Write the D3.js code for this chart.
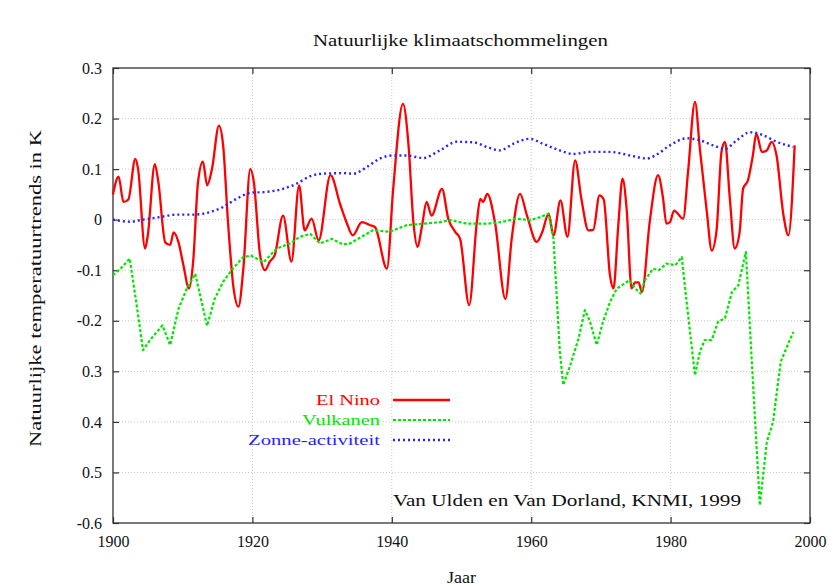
<!DOCTYPE html>
<html><head><meta charset="utf-8">
<script src="https://cdnjs.cloudflare.com/ajax/libs/d3/7.8.5/d3.min.js"></script>
<style>
html,body{margin:0;padding:0;background:#fff;}
svg text{font-family:"Liberation Serif","Times New Roman",serif;}
</style></head>
<body>
<svg id="chart" width="834" height="588"></svg>
<script>
// ---------- data ----------
const title = "Natuurlijke klimaatschommelingen";
const xLabel = "Jaar";
const yLabel = "Natuurlijke temperatuurtrends in K";
const credit = "Van Ulden en Van Dorland, KNMI, 1999";
const seriesNames = ["El Nino", "Vulkanen", "Zonne-activiteit"];

const xTickValues = [1900, 1920, 1940, 1960, 1980, 2000];
const xTickLabels = ["1900", "1920", "1940", "1960", "1980", "2000"];
const yTickValues = [0.3, 0.2, 0.1, 0, -0.1, -0.2, -0.3, -0.4, -0.5, -0.6];
const yTickLabels = ["0.3", "0.2", "0.1", "0", "-0.1", "-0.2", "0.3", "0.4", "0.5", "-0.6"];

const elNinoYears = [1900.0,1900.8,1901.5,1902.2,1903.2,1903.6,1904.6,1905.0,1906.0,1906.5,1907.5,1908.2,1908.7,1909.4,1910.1,1910.9,1911.5,1912.2,1912.9,1913.5,1914.2,1915.2,1915.8,1916.5,1917.3,1918.0,1918.7,1919.7,1920.2,1921.1,1921.8,1922.5,1923.2,1924.4,1925.6,1926.7,1927.5,1928.5,1929.5,1931.2,1932.6,1933.5,1934.4,1935.7,1936.9,1937.6,1939.3,1940.2,1941.6,1942.4,1943.1,1943.7,1944.3,1945.0,1945.7,1947.2,1948.1,1949.1,1949.8,1951.1,1952.2,1952.7,1953.1,1953.7,1954.8,1956.3,1957.2,1958.4,1959.4,1960.8,1961.6,1962.5,1963.2,1964.2,1965.2,1966.3,1967.2,1968.2,1968.9,1969.8,1970.4,1971.3,1971.8,1972.5,1973.1,1973.7,1974.4,1974.9,1975.4,1975.9,1977.0,1978.2,1978.9,1979.4,1979.9,1980.5,1981.8,1982.5,1983.5,1984.2,1985.2,1985.9,1986.6,1987.3,1987.8,1988.5,1989.2,1989.9,1990.4,1991.1,1991.8,1992.3,1993.1,1993.8,1994.5,1995.2,1996.2,1996.9,1997.8];
const elNinoValues = [0.05,0.085,0.035,0.04,0.12,0.10,-0.057,-0.03,0.11,0.075,-0.045,-0.05,-0.025,-0.045,-0.09,-0.136,-0.083,0.075,0.115,0.068,0.10,0.186,0.147,-0.005,-0.136,-0.172,-0.097,0.10,0.075,-0.07,-0.10,-0.083,-0.07,0.008,-0.083,0.068,-0.021,0.002,-0.041,0.088,0.03,-0.005,-0.031,-0.005,-0.011,-0.015,-0.097,0.061,0.229,0.147,-0.005,-0.054,-0.015,0.035,0.008,0.061,0.002,-0.024,-0.038,-0.169,-0.005,0.041,0.035,0.051,-0.005,-0.157,-0.038,0.051,0.008,-0.044,-0.024,0.012,-0.031,0.038,-0.034,0.117,0.041,-0.021,-0.02,0.048,0.04,-0.11,-0.136,-0.01,0.081,0.02,-0.136,-0.124,-0.124,-0.143,-0.005,0.088,0.044,-0.008,-0.005,0.018,0.002,0.094,0.233,0.14,0.015,-0.061,-0.02,0.134,0.154,0.041,-0.057,-0.025,0.061,0.078,0.127,0.17,0.134,0.137,0.154,0.127,0.008,-0.031,0.147];

const vulkanenYears = [1900.0,1901.2,1902.4,1903.4,1904.3,1905.5,1907.1,1908.2,1909.4,1910.6,1911.8,1912.5,1913.5,1914.6,1915.8,1917.0,1918.7,1919.8,1921.6,1923.5,1925.4,1926.8,1928.3,1929.7,1931.4,1933.0,1934.0,1937.3,1939.7,1942.1,1944.5,1946.9,1948.4,1950.8,1953.7,1955.6,1957.9,1959.8,1961.3,1962.5,1963.2,1964.1,1964.6,1965.6,1966.8,1967.7,1968.4,1969.4,1970.3,1971.3,1972.3,1973.2,1974.1,1974.9,1975.7,1976.3,1977.5,1978.3,1979.4,1980.7,1981.6,1982.3,1983.5,1984.2,1984.9,1985.9,1986.8,1987.8,1988.8,1989.7,1990.8,1991.6,1992.8,1993.8,1994.7,1995.8,1996.4,1997.6];
const vulkanenValues = [-0.11,-0.095,-0.077,-0.169,-0.258,-0.235,-0.209,-0.248,-0.176,-0.136,-0.107,-0.15,-0.21,-0.156,-0.123,-0.10,-0.074,-0.071,-0.084,-0.057,-0.047,-0.034,-0.028,-0.047,-0.038,-0.049,-0.047,-0.021,-0.024,-0.011,-0.008,-0.005,-0.001,-0.008,-0.008,-0.005,0.002,-0.001,0.005,0.012,-0.038,-0.26,-0.327,-0.288,-0.235,-0.179,-0.20,-0.248,-0.202,-0.163,-0.136,-0.128,-0.12,-0.136,-0.146,-0.12,-0.097,-0.10,-0.087,-0.09,-0.074,-0.163,-0.308,-0.261,-0.238,-0.238,-0.202,-0.195,-0.143,-0.13,-0.064,-0.268,-0.565,-0.44,-0.40,-0.281,-0.261,-0.222];

const zonYears = [1900.0,1902.4,1904.3,1906.7,1909.1,1911.5,1913.9,1915.8,1917.7,1919.7,1922.1,1924.4,1926.3,1928.3,1930.2,1933.0,1934.5,1936.4,1938.3,1940.2,1942.1,1944.5,1946.9,1949.3,1951.7,1953.6,1955.5,1957.4,1959.8,1961.7,1964.1,1966.0,1968.4,1971.3,1974.2,1976.6,1977.8,1979.9,1982.3,1984.2,1986.1,1987.8,1989.5,1991.4,1993.3,1995.2,1997.6];
const zonValues = [0.0,-0.004,0.0,0.005,0.01,0.01,0.015,0.025,0.041,0.053,0.055,0.061,0.071,0.086,0.091,0.092,0.091,0.104,0.121,0.127,0.127,0.122,0.137,0.154,0.153,0.144,0.137,0.15,0.16,0.15,0.137,0.13,0.134,0.134,0.127,0.121,0.127,0.147,0.161,0.157,0.147,0.14,0.157,0.173,0.167,0.154,0.144];

const seriesColors = ["#ff0000", "#00e600", "#2424ff"];

// ---------- drawing ----------
const svg = d3.select("#chart");
const x = d3.scaleLinear().domain([1900, 2000]).range([113, 810]);
const y = d3.scaleLinear().domain([-0.6, 0.3]).range([523, 68]);
const fontStack = '"Liberation Serif","Times New Roman",serif';

function fit(sel, w) { sel.attr("textLength", w).attr("lengthAdjust", "spacingAndGlyphs"); return sel; }

// grid
const grid = svg.append("g");
grid.selectAll("line.h").data(yTickValues.filter(v => v < 0.3 && v > -0.6)).enter().append("line")
  .attr("x1", x(1900)).attr("x2", x(2000)).attr("y1", d => y(d)).attr("y2", d => y(d))
  .attr("stroke", "#c8c8c8").attr("stroke-width", 1).attr("stroke-dasharray", "1,2");
grid.selectAll("line.v").data(xTickValues.filter(v => v > 1900 && v < 2000)).enter().append("line")
  .attr("y1", y(0.3)).attr("y2", y(-0.6)).attr("x1", d => x(d)).attr("x2", d => x(d))
  .attr("stroke", "#c8c8c8").attr("stroke-width", 1).attr("stroke-dasharray", "1,2");

// axes with inward ticks
const axL = d3.axisLeft(y).tickValues(yTickValues).tickFormat((d, i) => yTickLabels[i]).tickSizeInner(-6).tickSizeOuter(0).tickPadding(11);
const axR = d3.axisRight(y).tickValues(yTickValues).tickFormat("").tickSizeInner(-6).tickSizeOuter(0);
const axB = d3.axisBottom(x).tickValues(xTickValues).tickFormat((d, i) => xTickLabels[i]).tickSizeInner(-6).tickSizeOuter(0).tickPadding(13);
const axT = d3.axisTop(x).tickValues(xTickValues).tickFormat("").tickSizeInner(-6).tickSizeOuter(0);

function styleAxis(g) {
  g.select(".domain").remove();
  g.selectAll(".tick line").attr("stroke", "#333").attr("stroke-width", 1.2);
  g.selectAll(".tick text").attr("fill", "#111").style("font-family", fontStack).style("font-size", "16px");
}
svg.append("g").attr("transform", `translate(${x(1900)},0)`).call(axL).call(styleAxis);
svg.append("g").attr("transform", `translate(${x(2000)},0)`).call(axR).call(styleAxis);
svg.append("g").attr("transform", `translate(0,${y(-0.6)})`).call(axB).call(styleAxis);
svg.append("g").attr("transform", `translate(0,${y(0.3)})`).call(axT).call(styleAxis);

// frame
svg.append("rect").attr("x", x(1900)).attr("y", y(0.3)).attr("width", x(2000) - x(1900)).attr("height", y(-0.6) - y(0.3))
  .attr("fill", "none").attr("stroke", "#333").attr("stroke-width", 1.3);

// series
const series = [
  { years: elNinoYears, values: elNinoValues, dash: null, width: 2.3, curve: d3.curveMonotoneX },
  { years: vulkanenYears, values: vulkanenValues, dash: "3,2", width: 2.2, curve: d3.curveLinear },
  { years: zonYears, values: zonValues, dash: "2,3", width: 2.4, curve: d3.curveMonotoneX }
];
series.forEach((s, i) => {
  const line = d3.line().curve(s.curve).x(d => x(d[0])).y(d => y(d[1]));
  const pts = s.years.map((yr, j) => [yr, s.values[j]]);
  const p = svg.append("path").datum(pts).attr("d", line)
    .attr("fill", "none").attr("stroke", seriesColors[i]).attr("stroke-width", s.width)
    .attr("stroke-linejoin", "round");
  if (s.dash) p.attr("stroke-dasharray", s.dash);
});

// legend
const legY = [400, 420, 440];
seriesNames.forEach((n, i) => {
  fit(svg.append("text").attr("x", 380).attr("y", legY[i] + 5).attr("text-anchor", "end")
    .attr("fill", seriesColors[i]).style("font-size", "15px").text(n), [64, 78, 132][i]);
  const l = svg.append("line").attr("x1", 393).attr("x2", 450).attr("y1", legY[i]).attr("y2", legY[i])
    .attr("stroke", seriesColors[i]).attr("stroke-width", series[i].width);
  if (series[i].dash) l.attr("stroke-dasharray", series[i].dash);
});

// texts
fit(svg.append("text").attr("x", 313).attr("y", 46).attr("fill", "#111").style("font-size", "17px").text(title), 295);
fit(svg.append("text").attr("x", 393).attr("y", 506).attr("fill", "#111").style("font-size", "16px").text(credit), 348);
fit(svg.append("text").attr("x", 447).attr("y", 583).attr("fill", "#111").style("font-size", "17px").text(xLabel), 29);
fit(svg.append("text").attr("transform", "translate(41,447) rotate(-90)").attr("x", 0).attr("y", 0)
  .attr("fill", "#111").style("font-size", "17px").text(yLabel), 317);
</script>
</body></html>
